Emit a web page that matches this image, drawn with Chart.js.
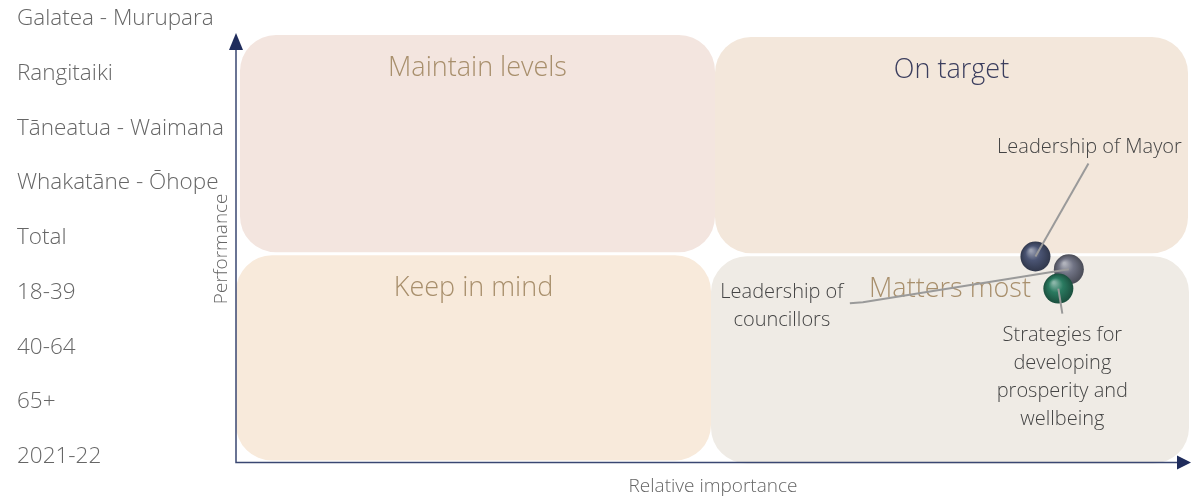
<!DOCTYPE html>
<html>
<head>
<meta charset="utf-8">
<script src="https://cdn.jsdelivr.net/npm/chart.js@4.4.1/dist/chart.umd.min.js"></script>
<style>
    html, body { margin: 0; padding: 0; background: #fff; }
    body { width: 1191px; height: 499px; position: relative; overflow: hidden; font-family: 'Open Sans', sans-serif; }
    #filtros { position: absolute; left: 0; top: 0; z-index: 2; pointer-events: none; }
    #filtros div { position: absolute; left: 17px; font-size: 22.5px; line-height: 30px; height: 30px; color: #666; font-weight: 300; white-space: nowrap; }
    #grafico { position: absolute; left: 0; top: 0; width: 1191px; height: 499px; }
</style>
</head>
<body>
<div id="filtros"></div>
<div id="grafico"><canvas id="quadrante"></canvas></div>
<script>

// filtros da lateral
const filtros = ['Galatea - Murupara', 'Rangitaiki', 'Tāneatua - Waimana', 'Whakatāne - Ōhope', 'Total', '18-39', '40-64', '65+', '2021-22'];

// pontos do gráfico
const atributos = [
    ['Leadership of Mayor'],
    ['Leadership of', 'councillors'],
    ['Strategies for', 'developing', 'prosperity and', 'wellbeing']
];
const importancia = [0.838, 0.873, 0.862];
const desempenho = [48.2, 45.2, 40.7];

// quadrantes: [esquerda-cima, direita-cima, esquerda-baixo, direita-baixo]
const quadrantes = ['Maintain levels', 'On target', 'Keep in mind', 'Matters most'];
const divisaoX = 0.5;
const divisaoY = 48.7;

const tituloX = 'Relative importance';
const tituloY = 'Performance';

/*------------------------estilos---------------------------------*/
const fonte = "'Open Sans', sans-serif";
const coresBolha = ['#4a5473', '#717485', '#2a7a60'];
const coresQuadrante = ['#f3e5df', '#f3e7db', '#f8eadb', '#efebe5'];
const coresTituloQuadrante = ['#a88f6c', '#3b3e5e', '#a88f6c', '#a88f6c'];
// posição dos rótulos em relação ao ponto (px): linha e texto
const rotulos = [
    { linha: [[53, -93]], texto: [54, -109] },
    { linha: [[-206, 33], [-219, 34]], texto: [-287, 23] },
    { linha: [[4, 25]], texto: [4, 47] }
];

let lista = document.getElementById('filtros');
filtros.forEach((nome, i) => {
    let div = document.createElement('div');
    div.textContent = nome;
    div.style.top = (17 + i * 54.75 - 15) + 'px';
    lista.appendChild(div);
});

function cor(hex, fator) {
    let r = parseInt(hex.slice(1, 3), 16);
    let g = parseInt(hex.slice(3, 5), 16);
    let b = parseInt(hex.slice(5, 7), 16);
    if (fator > 0) {
        r = r + (255 - r) * fator; g = g + (255 - g) * fator; b = b + (255 - b) * fator;
    } else {
        r = r * (1 + fator); g = g * (1 + fator); b = b * (1 + fator);
    }
    return 'rgb(' + Math.round(r) + ',' + Math.round(g) + ',' + Math.round(b) + ')';
}

// bolha com efeito de esfera
function esfera(context) {
    let i = context.dataIndex;
    let base = coresBolha[i % coresBolha.length];
    let chart = context.chart;
    if (!chart.chartArea || context.raw === undefined) return base;
    let x = chart.scales.x.getPixelForValue(context.raw.x);
    let y = chart.scales.y.getPixelForValue(context.raw.y);
    let r = 15;
    let grad = chart.ctx.createRadialGradient(x - r * 0.3, y - r * 0.4, 1, x, y, r);
    grad.addColorStop(0, cor(base, 0.45));
    grad.addColorStop(0.45, base);
    grad.addColorStop(1, cor(base, -0.35));
    return grad;
}

const pluginQuadrantes = {
    id: 'quadrantes',
    beforeDatasetsDraw(chart) {
        const { ctx, chartArea, scales } = chart;
        let mx = scales.x.getPixelForValue(divisaoX);
        let my = scales.y.getPixelForValue(divisaoY);
        let caixas = [
            [chartArea.left + 4, chartArea.top, mx + 2, my - 2],
            [mx + 2, chartArea.top + 2, chartArea.right - 2, my - 1],
            [chartArea.left, my + 1, mx - 2, chartArea.bottom - 2],
            [mx - 2, my + 2, chartArea.right - 1, chartArea.bottom + 1]
        ];
        ctx.save();
        caixas.forEach((c, i) => {
            ctx.fillStyle = coresQuadrante[i];
            ctx.beginPath();
            ctx.roundRect(c[0], c[1], c[2] - c[0], c[3] - c[1], 36);
            ctx.fill();
        });
        ctx.font = '300 27px ' + fonte;
        ctx.textAlign = 'center';
        ctx.textBaseline = 'middle';
        caixas.forEach((c, i) => {
            ctx.fillStyle = coresTituloQuadrante[i];
            ctx.fillText(quadrantes[i], (c[0] + c[2]) / 2, c[1] + 33);
        });

        // eixos com setas
        ctx.strokeStyle = '#3a4772';
        ctx.fillStyle = '#1f2c5c';
        ctx.lineWidth = 1.5;
        ctx.beginPath();
        ctx.moveTo(chartArea.left, chartArea.top + 10);
        ctx.lineTo(chartArea.left, chartArea.bottom);
        ctx.lineTo(chartArea.right - 10, chartArea.bottom);
        ctx.stroke();
        ctx.beginPath();
        ctx.moveTo(chartArea.left, chartArea.top - 2);
        ctx.lineTo(chartArea.left - 7, chartArea.top + 15);
        ctx.lineTo(chartArea.left + 7, chartArea.top + 15);
        ctx.fill();
        ctx.beginPath();
        ctx.moveTo(chartArea.right + 1, chartArea.bottom);
        ctx.lineTo(chartArea.right - 13, chartArea.bottom - 7);
        ctx.lineTo(chartArea.right - 13, chartArea.bottom + 7);
        ctx.fill();
        ctx.restore();
    },
    afterDatasetsDraw(chart) {
        const { ctx } = chart;
        const meta = chart.getDatasetMeta(0);
        ctx.save();
        meta.data.forEach((ponto, i) => {
            let r = rotulos[i];
            ctx.strokeStyle = '#9a9a9a';
            ctx.lineWidth = 2;
            ctx.beginPath();
            ctx.moveTo(ponto.x, ponto.y);
            r.linha.forEach(p => ctx.lineTo(ponto.x + p[0], ponto.y + p[1]));
            ctx.stroke();

            ctx.fillStyle = '#444';
            ctx.font = '300 20px ' + fonte;
            ctx.textAlign = 'center';
            ctx.textBaseline = 'middle';
            atributos[i].forEach((linha, j) => {
                ctx.fillText(linha, ponto.x + r.texto[0], ponto.y + r.texto[1] + j * 28);
            });
        });
        ctx.restore();
    }
};

const ctx = document.getElementById('quadrante');
new Chart(ctx, {
    type: 'scatter',
    data: {
        datasets: [{
            label: 'Atributos',
            data: importancia.map((v, i) => ({ x: v, y: desempenho[i] })),
            backgroundColor: esfera,
            borderWidth: 0,
            pointRadius: 15,
            pointHoverRadius: 15
        }]
    },
    options: {
        responsive: true,
        maintainAspectRatio: false,
        animation: false,
        events: [],
        layout: { autoPadding: false, padding: { left: 208, right: 1, top: 35, bottom: 0 } },
        scales: {
            x: {
                min: 0, max: 1,
                grid: { display: false, drawTicks: false },
                border: { display: false },
                ticks: { display: false },
                title: {
                    display: true, text: tituloX, color: '#666',
                    font: { family: fonte, size: 19, weight: '300' },
                    padding: { top: 12.6, bottom: 1 }
                }
            },
            y: {
                min: 0, max: 100,
                grid: { display: false, drawTicks: false },
                border: { display: false },
                ticks: { display: false },
                title: {
                    display: true, text: tituloY, color: '#666',
                    font: { family: fonte, size: 19, weight: '300' },
                    padding: { top: 2.6, bottom: 2.6 }
                }
            }
        },
        plugins: {
            legend: { display: false },
            tooltip: { enabled: false }
        }
    },
    plugins: [pluginQuadrantes]
});
</script>
</body>
</html>
